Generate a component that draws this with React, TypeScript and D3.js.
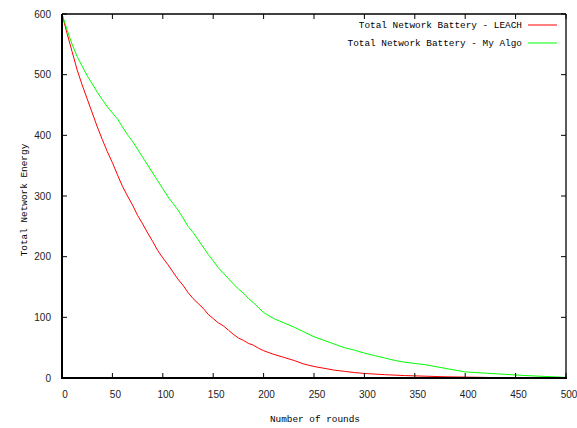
import React from "react";
import * as d3 from "d3";

const leachRounds = [0,5,10,15,20,25,30,35,40,45,50,55,60,65,70,75,80,85,90,95,100,105,110,115,120,125,130,135,140,145,150,155,160,165,170,175,180,185,190,195,200,210,220,230,240,250,260,270,280,290,300,320,340,360,380,400,420,437];
const leachEnergy = [600,568,538,508,483,460,437,414,393,373,355,335,316,300,285,268,254,239,225,210,198,187,175,163,153,141,131,123,115,105,98,91,86,79,72,66,62,57,54,49,45,39,34,29,23,19,16,13,11,9,7.5,5.5,4,3,2,1.5,1,0];

const myRounds = [0,5,10,15,20,25,30,35,40,45,50,55,60,65,70,75,80,85,90,95,100,105,110,115,120,125,130,135,140,145,150,155,160,165,170,175,180,185,190,195,200,210,220,230,240,250,260,270,280,290,300,310,320,330,340,350,360,370,380,390,400,420,440,460,480,500];
const myEnergy = [600,574,550,530,514,498,485,471,459,447,437,427,414,401,390,377,364,351,338,325,312,299,288,277,264,250,240,228,216,204,193,182,173,164,155,147,140,131,124,116,108,98,91,84,76,68,62,56,50,46,41,37,33,29,26,24,22,19,16,13,10,8,6,4,2.5,1];

const xTicks = [0,50,100,150,200,250,300,350,400,450,500];
const yTicks = [0,100,200,300,400,500,600];
const seriesNames = ["Total Network Battery - LEACH", "Total Network Battery - My Algo"];
const seriesColors = ["#ff0000", "#00ff00"];

export default function App() {
  const W = 577, H = 428;
  const left = 62, right = 566, top = 14, bottom = 378;
  const x = d3.scaleLinear().domain([0, 500]).range([left, right]);
  const y = d3.scaleLinear().domain([0, 600]).range([bottom, top]);
  const line = d3.line<[number, number]>().x(d => x(d[0])).y(d => y(d[1]));
  const series = [
    leachRounds.map((r, i) => [r, leachEnergy[i]] as [number, number]),
    myRounds.map((r, i) => [r, myEnergy[i]] as [number, number]),
  ];
  const tickFont = "'Liberation Sans', Arial, sans-serif";
  const monoFont = "'Liberation Mono', 'DejaVu Sans Mono', monospace";
  return (
    <svg width={W} height={H} style={{ position: "absolute", left: 0, top: 0, background: "#fff" }}>
      <rect x={0} y={0} width={W} height={H} fill="#fff" />
      {series.map((s, i) => (
        <path key={i} d={line(s) || ""} fill="none" stroke={seriesColors[i]} strokeWidth={1} />
      ))}
      {xTicks.map(t => (
        <g key={"x" + t}>
          <line x1={x(t)} x2={x(t)} y1={bottom} y2={bottom - 5} stroke="#000" strokeWidth={1} />
          <line x1={x(t)} x2={x(t)} y1={top} y2={top + 5} stroke="#000" strokeWidth={1} />
          <text x={x(t) + 3} y={398} textAnchor="middle" fontFamily={tickFont} fontSize={10} fill="#222">{t}</text>
        </g>
      ))}
      {yTicks.map(t => (
        <g key={"y" + t}>
          <line x1={left} x2={left + 5} y1={y(t)} y2={y(t)} stroke="#000" strokeWidth={1} />
          <line x1={right} x2={right - 5} y1={y(t)} y2={y(t)} stroke="#000" strokeWidth={1} />
          <text x={51} y={y(t)} dy="0.36em" textAnchor="end" fontFamily={tickFont} fontSize={10} fill="#222">{t}</text>
        </g>
      ))}
      <line x1={left} x2={left} y1={top} y2={bottom + 1} stroke="#000" strokeWidth={2} />
      <line x1={left - 1} x2={right + 1} y1={bottom} y2={bottom} stroke="#000" strokeWidth={2} />
      <line x1={left} x2={right} y1={top} y2={top} stroke="#000" strokeWidth={1.3} />
      <line x1={right} x2={right} y1={top} y2={bottom} stroke="#000" strokeWidth={1.3} />
      {seriesNames.map((n, i) => (
        <g key={n}>
          <text x={522} y={25 + i * 18} dy="0.35em" textAnchor="end" fontFamily={monoFont} fontSize={9.4} fill="#000">{n}</text>
          <line x1={528} x2={557} y1={25 + i * 18} y2={25 + i * 18} stroke={seriesColors[i]} strokeWidth={1} />
        </g>
      ))}
      <text x={315} y={422} textAnchor="middle" fontFamily={monoFont} fontSize={9.4} fill="#000">Number of rounds</text>
      <text transform="translate(27,200) rotate(-90)" textAnchor="middle" fontFamily={monoFont} fontSize={9.4} fill="#000">Total Network Energy</text>
    </svg>
  );
}
